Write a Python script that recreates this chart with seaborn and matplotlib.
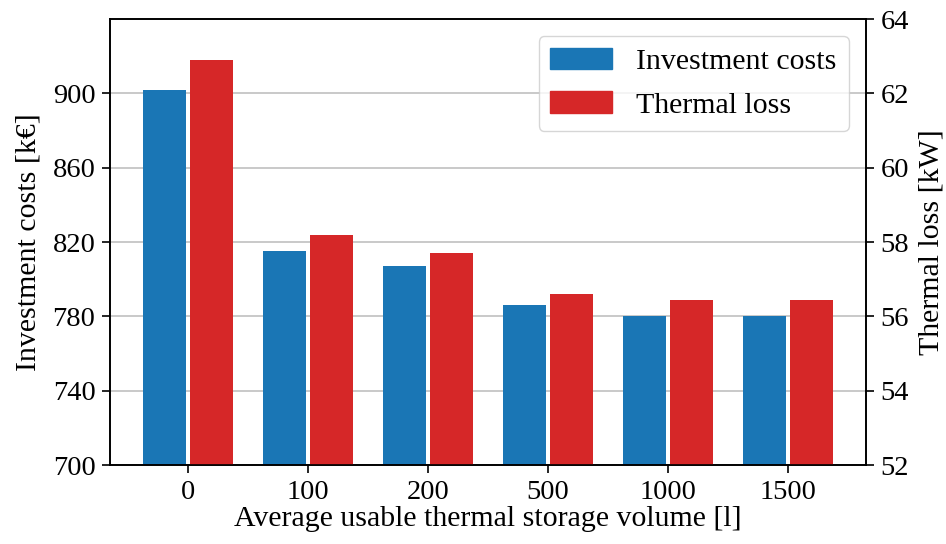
import numpy as np
import pandas as pd
import matplotlib
matplotlib.use("Agg")
import matplotlib.pyplot as plt
import seaborn as sns
from matplotlib.patches import Patch

# data
volumes = ["0", "100", "200", "500", "1000", "1500"]
investment = [902, 815, 807, 786, 780, 780]          # k€
thermal_loss = [62.9, 58.2, 57.7, 56.6, 56.45, 56.45]  # kW

series = ["Investment costs", "Thermal loss"]
colors = {"Investment costs": "#1a76b5", "Thermal loss": "#d62728"}

sns.set_theme(style="white")
plt.rcParams["font.family"] = ["Liberation Serif", "DejaVu Serif"]
plt.rcParams["text.color"] = "black"
plt.rcParams["axes.labelcolor"] = "black"
plt.rcParams["xtick.color"] = "black"
plt.rcParams["ytick.color"] = "black"

n = len(volumes)
# each axis gets one series, the other hue level is zero (hidden below ylim)
df_inv = pd.DataFrame({
    "Volume": volumes * 2,
    "Series": [series[0]] * n + [series[1]] * n,
    "Value": investment + [0.0] * n,
})
df_loss = pd.DataFrame({
    "Volume": volumes * 2,
    "Series": [series[0]] * n + [series[1]] * n,
    "Value": [0.0] * n + thermal_loss,
})

fig, ax = plt.subplots(figsize=(9.46, 5.44), dpi=100)
fig.subplots_adjust(left=0.1163, right=0.9154, top=0.965, bottom=0.145)
ax2 = ax.twinx()

sns.barplot(data=df_inv, x="Volume", y="Value", hue="Series", hue_order=series,
            palette=colors, width=0.78, gap=0.08, ax=ax, legend=False,
            saturation=1, errorbar=None, linewidth=0)
sns.barplot(data=df_loss, x="Volume", y="Value", hue="Series", hue_order=series,
            palette=colors, width=0.78, gap=0.08, ax=ax2, legend=False,
            saturation=1, errorbar=None, linewidth=0)

ax.set_ylim(700, 940)
ax.set_yticks(np.arange(700, 901, 40))
ax2.set_ylim(52, 64)
ax2.set_yticks(np.arange(52, 65, 2))
ax.set_xlim(-0.65, 5.65)

ax.yaxis.grid(True, color="#c0c0c0", linewidth=1.2)
ax.set_axisbelow(True)
ax2.grid(False)

fs_tick = 20.5
fs = 21.5
ax.set_xlabel("Average usable thermal storage volume [l]", fontsize=fs, labelpad=1)
ax.set_ylabel("Investment costs [k€]", fontsize=fs, labelpad=8)
ax2.set_ylabel("Thermal loss [kW]", fontsize=fs, labelpad=7)
for a in (ax, ax2):
    a.tick_params(axis="both", labelsize=fs_tick, direction="out", length=5.5,
                  width=1.2, pad=5, left=(a is ax), right=(a is ax2),
                  bottom=True)
    for s in a.spines.values():
        s.set_color("black")
        s.set_linewidth(1.2)

handles = [Patch(color=colors[s], label=s) for s in series]
ax2.legend(handles=handles, loc="upper right", fontsize=fs, frameon=True,
           handlelength=2.05, handleheight=0.74, borderpad=0.4,
           labelspacing=0.55, handletextpad=0.83, bbox_to_anchor=(0.997, 0.996))

fig.savefig("out.png", dpi=100)
